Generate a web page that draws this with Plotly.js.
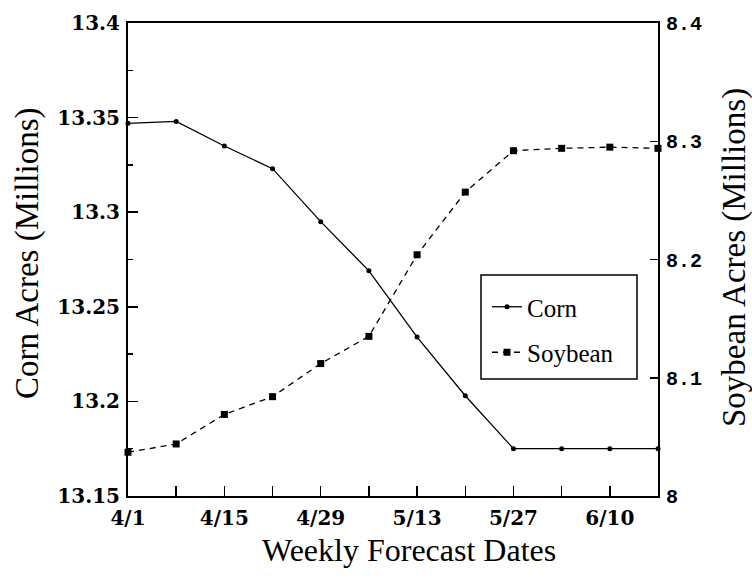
<!DOCTYPE html>
<html>
<head>
<meta charset="utf-8">
<script src="https://cdn.plot.ly/plotly-3.0.1.min.js"></script>
<style>
  html, body { margin: 0; padding: 0; background: #fff; }
  #chart { width: 752px; height: 581px; }
</style>
</head>
<body>
<div id="chart"></div>
<script>
// ---- data ----
const dates = ["4/1","4/8","4/15","4/22","4/29","5/6","5/13","5/20","5/27","6/3","6/10","6/17"];
const xTickText = ["4/1","","4/15","","4/29","","5/13","","5/27","","6/10",""];
const corn = [13.347, 13.348, 13.335, 13.323, 13.295, 13.269, 13.234, 13.203, 13.175, 13.175, 13.175, 13.175];
const soybean = [8.037, 8.044, 8.069, 8.084, 8.112, 8.135, 8.204, 8.257, 8.292, 8.294, 8.295, 8.294];
const cornTicks = [13.15, 13.2, 13.25, 13.3, 13.35, 13.4];
const cornTickText = ["13.15", "13.2", "13.25", "13.3", "13.35", "13.4"];
const soyTicks = [8, 8.1, 8.2, 8.3, 8.4];
const soyTickText = ["8", "8.1", "8.2", "8.3", "8.4"];
const seriesNames = ["Corn", "Soybean"];
const xTitle = "Weekly Forecast Dates";
const yTitle = "Corn Acres (Millions)";
const y2Title = "Soybean Acres (Millions)";

// ---- layout geometry (pixels) ----
const W = 752, H = 581;
const M = { l: 128, r: 94, t: 23, b: 85 };
const pw = W - M.l - M.r, ph = H - M.t - M.b;
const px = x => (x - M.l) / pw;
const py = y => (H - M.b - y) / ph;

const serif = "Liberation Serif, Times New Roman, serif";
const tickFont = { family: "DejaVu Serif, serif", size: 20, color: "#000", weight: 700 };

const traces = [
  {
    x: dates, y: corn, name: seriesNames[0], type: "scatter", mode: "lines+markers",
    line: { color: "#000", width: 1.3 },
    marker: { symbol: "circle", size: 5, color: "#000" },
    legendgroup: "a", cliponaxis: false
  },
  {
    x: dates, y: soybean, name: seriesNames[1], type: "scatter", mode: "lines+markers",
    yaxis: "y2",
    line: { color: "#000", width: 1.3, dash: "6px,5px" },
    marker: { symbol: "square", size: 7, color: "#000" },
    legendgroup: "b", cliponaxis: false
  }
];

const layout = {
  width: W, height: H,
  margin: M,
  paper_bgcolor: "#fff", plot_bgcolor: "#fff",
  showlegend: true,
  legend: {
    x: px(487), y: py(284), xanchor: "left", yanchor: "top",
    bgcolor: "rgba(0,0,0,0)", borderwidth: 0,
    font: { family: serif, size: 25, color: "#000" },
    tracegroupgap: 10
  },
  xaxis: {
    type: "category",
    range: [0, dates.length - 1],
    tickmode: "array", tickvals: dates, ticktext: xTickText,
    ticks: "inside", ticklen: 10, tickwidth: 1.5, tickcolor: "#000",
    showline: true, linecolor: "#000", linewidth: 2, mirror: true,
    showgrid: false, zeroline: false,
    tickfont: tickFont,
    ticklabelstandoff: 3
  },
  yaxis: {
    range: [13.15, 13.4],
    tickmode: "array", tickvals: cornTicks, ticktext: cornTickText,
    ticks: "inside", ticklen: 10, tickwidth: 1.5, tickcolor: "#000",
    minor: { dtick: 0.025, ticks: "inside", ticklen: 5, tickcolor: "#000", showgrid: false },
    showline: true, linecolor: "#000", linewidth: 2,
    showgrid: false, zeroline: false,
    tickfont: tickFont,
    ticklabelstandoff: 2
  },
  yaxis2: {
    range: [8, 8.4],
    overlaying: "y", side: "right",
    tickmode: "array", tickvals: soyTicks, ticktext: soyTickText,
    ticks: "inside", ticklen: 8, tickwidth: 1.5, tickcolor: "#000",
    showline: true, linecolor: "#000", linewidth: 2,
    showgrid: false, zeroline: false,
    tickfont: { family: "Liberation Mono, monospace", size: 20, color: "#000", weight: 700 },
    ticklabelstandoff: 2
  },
  shapes: [
    {
      type: "rect", xref: "paper", yref: "paper",
      x0: px(481), x1: px(637), y0: py(379), y1: py(275),
      line: { color: "#000", width: 1.5 }, fillcolor: "rgba(0,0,0,0)", layer: "above"
    }
  ],
  annotations: [
    {
      text: xTitle, xref: "paper", yref: "paper",
      x: px(409), y: py(550), xanchor: "center", yanchor: "middle",
      showarrow: false, font: { family: serif, size: 32, color: "#000" }
    },
    {
      text: yTitle, xref: "paper", yref: "paper",
      x: px(27), y: py(254), xanchor: "center", yanchor: "middle", textangle: -90,
      showarrow: false, font: { family: serif, size: 33, color: "#000" }
    },
    {
      text: y2Title, xref: "paper", yref: "paper",
      x: px(734), y: py(258), xanchor: "center", yanchor: "middle", textangle: -90,
      showarrow: false, font: { family: serif, size: 33, color: "#000" }
    }
  ]
};

Plotly.newPlot("chart", traces, layout, { staticPlot: true, displayModeBar: false });
</script>
</body>
</html>
